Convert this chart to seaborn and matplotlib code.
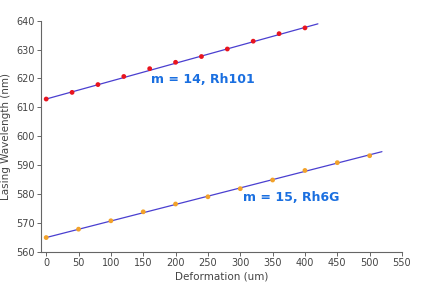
import matplotlib
matplotlib.use("Agg")
import matplotlib.pyplot as plt
import seaborn as sns
import numpy as np
import pandas as pd

# Data
x_rh101 = [0, 40, 80, 120, 160, 200, 240, 280, 320, 360, 400]
y_rh101 = [612.9, 615.2, 617.9, 620.7, 623.4, 625.6, 627.6, 630.2, 632.9, 635.5, 637.5]
fit_rh101_x = [0, 420]
fit_rh101_y = [612.9, 638.9]

x_rh6g = [0, 50, 100, 150, 200, 250, 300, 350, 400, 450, 500]
y_rh6g = [565.0, 567.9, 570.8, 573.9, 576.6, 579.1, 581.9, 584.9, 588.2, 590.9, 593.3]
fit_rh6g_x = [0, 519]
fit_rh6g_y = [565.0, 594.7]

label_rh101 = "m = 14, Rh101"
label_rh6g = "m = 15, Rh6G"
x_ticks = [0, 50, 100, 150, 200, 250, 300, 350, 400, 450, 500, 550]
y_ticks = [560, 570, 580, 590, 600, 610, 620, 630, 640]

sns.set_style("white")
plt.rcParams['font.family'] = ['DejaVu Sans']

fig = plt.figure(figsize=(4.22, 2.83), dpi=100)
ax = fig.add_axes([0.0972, 0.1095, 0.8554, 0.8175])

line_color = "#4a3fd0"
sns.lineplot(x=fit_rh101_x, y=fit_rh101_y, ax=ax, color=line_color, linewidth=0.9)
sns.lineplot(x=fit_rh6g_x, y=fit_rh6g_y, ax=ax, color=line_color, linewidth=0.9)
sns.scatterplot(x=x_rh101, y=y_rh101, ax=ax, color="#e8141e", s=12, edgecolor="none", zorder=3)
sns.scatterplot(x=x_rh6g, y=y_rh6g, ax=ax, color="#f2a22a", s=12, edgecolor="none", zorder=3)

ax.set_xlim(-8, 550)
ax.set_ylim(560, 640)
ax.set_xticks(x_ticks)
ax.set_yticks(y_ticks)

gray = "#444444"
for s in ["top", "right"]:
    ax.spines[s].set_visible(False)
for s in ["left", "bottom"]:
    ax.spines[s].set_color("#666666")
    ax.spines[s].set_linewidth(0.8)
ax.tick_params(axis="both", which="major", direction="out", length=3, width=0.7,
               colors="#666666", labelcolor=gray, labelsize=7, pad=1.5,
               bottom=True, left=True)

ax.set_xlabel("Deformation (um)", fontsize=7.5, color=gray, labelpad=2)
ax.set_ylabel("Lasing Wavelength (nm)", fontsize=7.5, color=gray, labelpad=4)

ax.text(162, 619.8, label_rh101, color="#1a6fe0", fontsize=9, fontweight="bold",
        va="center", ha="left")
ax.text(304, 578.7, label_rh6g, color="#1a6fe0", fontsize=9, fontweight="bold",
        va="center", ha="left")

fig.savefig("out.png", dpi=100)
